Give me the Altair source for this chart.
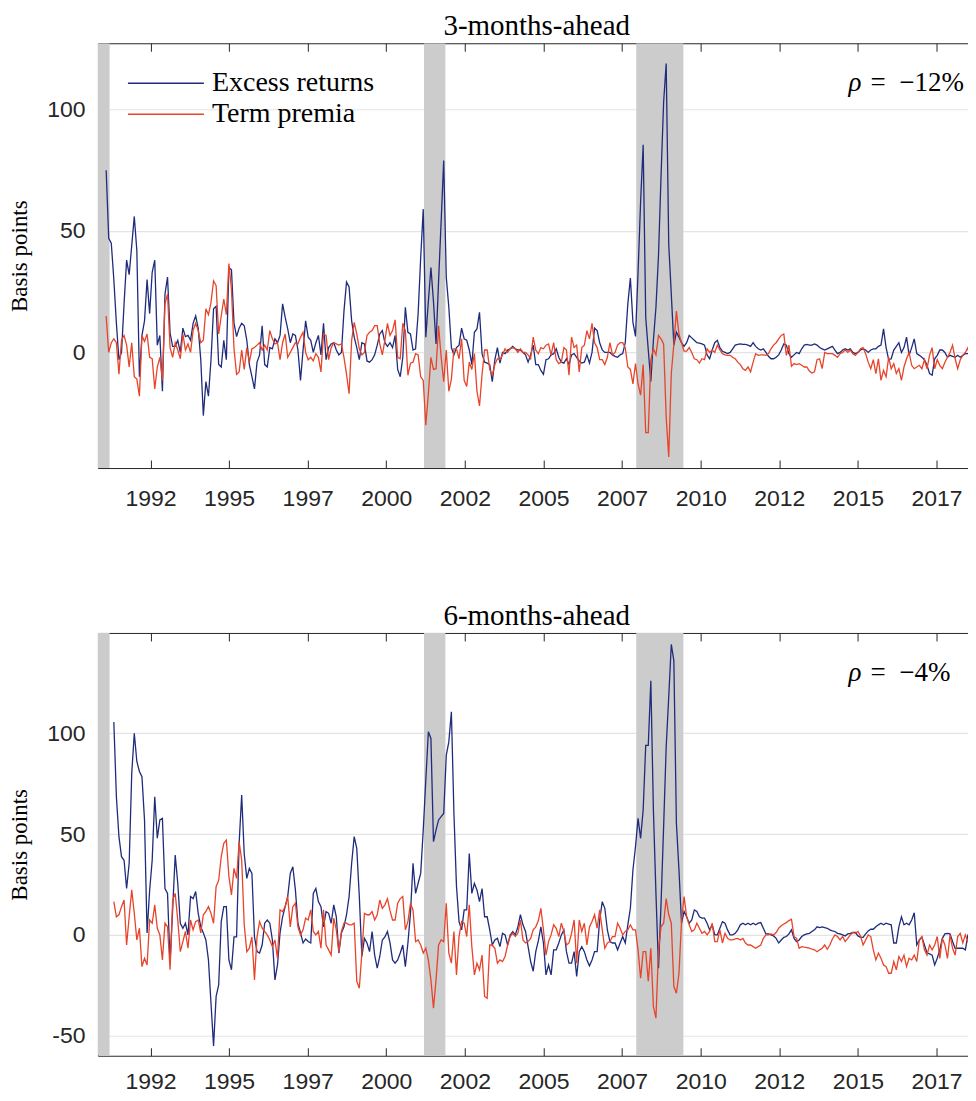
import altair as alt
import pandas as pd

# ---------------- data ----------------
# samples are evenly spaced in decimal years
T0 = 1991.091
STEP = 0.08133

# 3-months-ahead (sample 0 .. 340)
er3 = [
    75, 47, 45, 30, 12, -3, 0, 20, 38, 32,
    44, 56, 42, -10, 7, 13, 30, 16, 33, 38,
    3, 7, -16, 24, 31, 8, 2.5, 2.5, 5, 0,
    10, 6.5, 7, 5, 12, 15, 10, -3, -26, -12,
    -18, -3, 18, 19, -5, -6, 5, -3, 35, 34,
    12, 6.5, 10, 12, 11, 5, -5, -10, -15, -4,
    -1, 11, -5, -6, 2, 1.5, 5.6, 4, 7, 20,
    14.5, 9.7, 4, 7.6, 7, 1, -11.5, 1, 13, 6.3,
    5, 0, 4, 7, -1, 12, -3, 2, 3.5, 4,
    1, -1, 0, 17, 29, 27, 13, 6.3, 2, -3,
    4, 3.5, -3.5, -4, -3, -1, 3, 7.6, 9, 4,
    2.5, 4, 2, 7, -7, -10, -2, 18.6, 8.3, 7.6,
    1, 1.5, 16, 39, 59, 6.3, 21, 35, 21, 3.5,
    29.5, 54, 79, 31, 18.6, 2, -1, 2, 3, 10,
    5.6, 5, 1, -5, 8.3, 9.7, 16.5, -0.5, -4, -4.4,
    -5, -12, -3, 2, -4.4, 0, -0.5, 1, 1.5, 2.5,
    1.5, 1, 1, 0, -1, -4, -1, 3, -5, -5,
    -7.4, -9, -3, -2.6, -1, -0.5, 1.5, -2, -4, -4.4,
    -2.6, -5, -1, -0.5, -2, -3.5, -4.4, -4, -1, -4.4,
    0, 10, 9, 4, 1, 0, 0, 0, -1, -1.6,
    -2, -1, -0.5, 4, 20, 30.6, 12.4, 6.6, 33, 62,
    85.5, 14.5, 1, -12, 5, 18.6, 40, 73, 103, 119,
    44.5, 24, 3, 8.3, 6.3, 4, 2.5, 4, 7, 6,
    5, 4, 3.8, 3.5, 3, -1, -2.6, 1, 4, 5,
    2, 0.5, 0, -0.5, 0, 1.5, 3, 3.3, 3.5, 3.3,
    3.3, 3, 2.5, 4, 2.5, 1.5, 1, 1.5, 0, -1.6,
    -2.6, -2.6, -2, -1, 1, 3.5, 3, -0.5, -2, -1,
    0, -0.5, 1.5, 3, 3.3, 3, 3, 3.5, 3, 2,
    1.5, 1, 1.5, 2, 2.5, 1, -0.5, 0, 1, 1.5,
    1, 1.5, 0, -0.5, 0, 1, 1.5, 1, 0, 1,
    1.5, 1.5, 2.5, 3, 9.7, 2, -3, -2.6, 1, 2.5,
    4, 0, 2, 6.3, -1.2, 2, 5.6, -0.5, -1.2, -2,
    -3, -5.3, -8.7, -9.4, -2.6, -1.2, 1, 1, 0, -2,
    -1.2, -1.6, -2, -1.2, -2, -1.2, -0.5, -0.5, 0, 1,
    -0.5,
]
tp3 = [
    15, 0, 4, 5.6, 4, -9, 5, 7, 3, -6,
    4, -10, -11, -18, 7, 4.5, 7.6, -2, -2.6, -15,
    -6, -2, -11.5, 20, 24, 2, -2, 4, 1, -2.6,
    7.6, 1, 3.5, 0, 9, 12, 9, 4, 5, 18,
    15.6, 20.6, 29.5, 27.5, 7.6, 15, 22, 15.6, 36.6, 26,
    1.5, -9, -8, 1, -7, 2, -4, 1.5, 2, 3,
    4, 1, 3, 1, 9, 5.6, 3.5, 4, -3, 4,
    7.6, -2, 0, 2, 4, 3.5, 6.3, 8.3, 0, -3,
    -2, -3.5, -0.5, -2, -8, 7.6, 7, -3, 2, 4,
    3.5, 3, 3.5, -2, -9, -17, 5, 12.4, 7.6, 1.5,
    -1, 0, 7, 8.3, 9, 11, 11, 3.5, -1, 5,
    12, 7, 9, 13.4, -2, -2.6, 12, 9, -9.4, -4.4,
    -4, -0.5, -1, -10, -11.5, -30, -17, -2, -7, -6.7,
    11, -2, -12, 1, -16, -11, 1.5, 1.5, -2.6, 5.6,
    -11.5, -14, -4, -7, -0.5, -16, -22, -9, 1, 1,
    -7, -9.4, -5, -2.6, -3, -1, 1.5, 0, 1.5, 2,
    1.5, 0, 1.5, 0, 0, -1, -2.6, 6.3, 1, -0.5,
    2, 1.5, 3, 3.5, -1, 4, -3, -4.6, -4, 2,
    1, -9.4, 6.3, 2, 3, -8, 2, 3, 9, 5.6,
    12, 4, 2, -3, -3, -5, -2, 4, -1, 0,
    3, 4, 4, 2, -6, -7, -13, -4.6, -13, -17.6,
    -5, -33, -33, -3, 1.5, -1, 7, 5.6, 3.5, -26.5,
    -43, -8.7, 3.5, 17, 7.6, 4, 0.5, 0.5, 2, 0,
    -2.6, -3, -4.4, -2.6, -3, 1.5, 0, 1, 0, 3,
    1, -0.5, -1, -1.2, -1.2, -2, -2.6, -4, -5, -6.7,
    -7.4, -6, -8, -4, -0.5, -1.2, -1, -1, -1.2, -0.5,
    1.5, 3, 4, 5.6, 7, 7.6, -1.2, 3, -5.7, -4.6,
    -5, -4.6, -5.3, -6, -6, -7.7, -8.5, -8, -3, -2.6,
    -6.7, 0, -0.5, -0.5, -0.5, -1.2, -2, -0.5, 0, 1,
    0, 1, -0.5, -1.2, 0, 1.5, 2, -0.5, -4, -6.7,
    -3, -8.7, -2.6, -11.5, -7.4, -10, -2, -6.7, -4.6, -8.7,
    -6.7, -11.5, -6, -2.6, 0, -5.3, -6.7, -6, -5.3, -6.7,
    -3, -6.7, -1.2, 2, -6.7, -3, -5.3, -6.7, -4, -2,
    0, 3, -2.6, -6.7, -3, -1.2, 0, 2, -4, -2.6,
    -5.3,
]

# 6-months-ahead (sample 3 .. 340)
FIRST6 = 3
er6 = [
    105.6, 68.5, 48.7, 38.8, 37, 23, 35.5,
    80, 100, 86, 81, 78.4, 57, 1, 22, 37, 68.5,
    48, 57, 57.8, 23, 20.6, -14, 12.4, 39.6, 25.6, 5.8,
    3.3, 5.8, 0, 19, 18, 21.5, 10.7, 4, 1, -2.5,
    -12.4, -34, -55, -30.5, -24.8, 6.6, 14, 14, -12.4, -17.3,
    -1, -1, 45.4, 69.3, 40, 28, 33, 30.5, -1, -8.3,
    -9, -5, 5.8, 7.4, 5.8, -2.5, -22.3, -14.9, 1, 9,
    14, 19, 30.5, 33.8, 22.3, 5.8, 1, -4, -2, -3.3,
    -4, 20.6, 23, 16.5, 14, 4, 11.6, 10.7, 5.8, 14.9,
    9, -9, 1, 4, 10, 19, 35.5, 48.7, 42.9, 19,
    -10.7, -1.7, -4, -8.3, 1.7, -10, -16.5, -10.7, -2.5, -1,
    1.7, -4, -12.4, -14, -12.4, -9, -5, -15.7, -4, 10.7,
    35.5, 20.6, 25.6, 30.5, 52, 76.7, 100.7, 97.4, 46.2, 52,
    57, 58.6, 60.2, 89, 95.7, 110.6, 60.2, 24, 6.6, 2.5,
    12.4, 12.4, 40.4, 20.6, 25.6, 22.3, 16.5, 23, 9, 9,
    2.5, -5, -2.5, -1.7, -5.8, 0.8, 0, -5, 0, 1.7,
    0, 4, 10, 5, 1.7, -5.8, -13.2, -18, -8.3, -3,
    4, -4, -19.8, -14.9, -19.8, -7.4, -7.4, -4, 0, 2.5,
    -8.3, -14, -14, -8.3, -20.6, -8.3, -5.8, -8.3, -12.4, -15.3,
    -12.4, -8.3, -8.3, 7.4, 16.5, 13.2, 2.5, -3.3, -4, -4,
    -7.4, -4, -0.8, -4, 5, 13.2, 32.2, 43.7, 57.8, 47.9,
    61.9, 94, 94, 126, 61.9, 20.6, -16.5, 15.7, 53.6, 93.2,
    118, 144, 136, 55.3, 32.2, 5.8, 11.6, 9, 5.8, 7.4,
    12.4, 11.6, 9, 8.3, 8.3, 5.8, 2.5, 5, 0, 0,
    3.3, 6.6, 5.8, 2.5, 0, 0, 0.8, 2.5, 5, 5.8,
    5, 5.8, 5, 5.8, 5, 5.8, 6.1, 3.3, 0.5, 0.5,
    0, -0.5, -1.7, -4, -2.5, -1.2, -0.8, 0.5, 2.5, -1.7,
    -3.3, -2.5, -0.8, 0, 0.5, 0.8, 1.7, 2.5, 4, 3.6,
    4, 3.6, 3.3, 2.5, 2, 1.7, 0.8, 0.5, 0, -0.5,
    0.5, 0.8, 1.2, 1.2, -0.5, -1.2, -1.2, 0.5, 2, 2.8,
    2.8, 4, 5, 5.8, 5, 5.8, 5.4, 5, -4, -4,
    4, 9, 5, 5.8, 5, 7.4, 11, -5, -2.5, -1.2,
    -5, -9, -9.4, -10, -14.9, -11.6, -7.4, -1.7, 0.5, 0.8,
    0.5, -3.3, -6.6, -6.6, -6.6, -6.6, -7.4, 0, 0, -1.7,
    0,
]
tp6 = [
    16.5, 9, 10, 14, 17.3, -5, 9,
    22.3, 10.7, -2.5, 3.3, -15.7, -11.6, -14.9, 7.4, 5.8, 14.9,
    3.3, 0, -12.4, 5.8, 4, -17.3, 17.3, 20.6, 7.4, -8.3,
    -3.3, 1.7, -6.6, 7.4, 2.5, 6.6, 7.4, 1, 10, 11.6,
    14, 10.7, 5.8, 24, 27, 38.8, 45.4, 47, 29, 19.8,
    33, 28, 46.2, 37, 5, -8.3, -6.6, -1, -22.3, -1,
    6.6, 3.3, 1.7, 0, -2.5, -5.8, -2.5, -11.6, 12.4, 11.6,
    14, 19, 4, 14, 15.7, 4, 0, 2.5, 8.3, 7.4,
    12.4, 1.7, 0, 1.7, -6.6, 12.4, -5, -7.4, -10, 8.3,
    2.5, -8.3, 1.7, 5.8, 5.8, 5, 5, 5.8, -23, -26.4,
    -9, 10.7, 10, 10, 11.6, 7.4, 10, 17.3, 13.2, 14.9,
    18, 12, 7.4, 7.4, 15.7, 18, 19, 2.5, 6.6, 15.7,
    12.4, -3.3, -2.5, -5, -9, -6.6, -12.4, -22.3, -36.3, -22.3,
    -5, -2.5, -3.3, 15.7, -9, -14, 1.7, -19.8, -0.8, 6.6,
    5.8, -0.8, 14.9, -5.8, -19.8, -14, -17.3, -10, -30.5, -31.4,
    -5, -5, -6.6, -14, -12.4, -13.2, -10.7, -5, -0.8, 0.8,
    -0.8, 0.8, 7.4, -2.5, -4, -3.3, -1.7, 2.5, 4, 7,
    13.2, 2.5, -10, -3.3, 0, 5, 3.3, -0.8, 5.8, 1.7,
    -5, -4, 0.8, 7.4, -14, 7.4, 1.7, 5.8, -5, 4,
    6.6, 10, 3.3, 12.4, 2.5, -6.6, -4, -3.3, -0.8, -0.8,
    5.8, 3.3, 0, 1.7, 2.5, 5, 2.5, 2.5, -7.4, -21.5,
    -8.3, -8.3, -23, -6.6, -35.5, -41.3, -7.4, 4, 5.8, 18,
    10, 5.8, -25.6, -28.9, -19, 6.6, 19, 9, 5, 1.7,
    2.5, 5.8, 3.3, 0.8, 1.7, 0, 1.7, 5.8, -3.3, -3.3,
    2.5, -4, 0.8, -1.7, -2.5, -2.5, -2, -1.7, -2.5, -1.7,
    -4, -5, -5, -5.8, -6.6, -5.8, -5, -1.7, 0, 0,
    0.5, 0, 1.2, 3.3, 4.5, 5.4, 6.1, 7.1, 7.8, -0.8,
    -1.7, -6.6, -5.8, -6.1, -6.3, -6.6, -7.1, -7.4, -8.3, -7.4,
    -6.6, -5, -7.1, -5, -2, 0, -0.8, -2.5, -0.8, -3.3,
    -1.7, 0, 1.2, 0.8, 1.7, -0.5, -5, -2.5, 0, -0.8,
    -7.4, -12.4, -9, -11.6, -14.9, -15.7, -19, -19, -13.2, -17.3,
    -10.7, -13.2, -10, -15.7, -11.6, -12.4, -10, -13.2, -2.5, -0.8,
    -7.4, -10, -5, -7.4, -5, -0.8, -11.6, -1.7, -5, -11.6,
    0, -6.6, -10, -0.8, 0.8, -4, 0, -3.3, -1.7, -0.8,
    0,
]

# NBER recessions (decimal years)
REC_START = [1990.5, 2001.2, 2007.95]
REC_END = [1991.2, 2001.88, 2009.45]

X_DOMAIN = [1990.83, 2018.74]
X_TICKS = [1992.5, 1995.0, 1997.5, 2000.0, 2002.5, 2005.0, 2007.5, 2010.0, 2012.5, 2015.0, 2017.5]

TITLES = ["3-months-ahead", "6-months-ahead"]
RHO = ["=\u2002\u221212%", "=\u2002\u22124%"]
LEGEND = ["Excess returns", "Term premia"]
Y_TICKS_3 = [0, 50, 100]
Y_TICKS_6 = [-50, 0, 50, 100]
Y_DOMAIN_3 = [-47.6, 127.3]
Y_DOMAIN_6 = [-59.9, 149.7]

assert len(er3) == 341 and len(tp3) == 341, (len(er3), len(tp3))
assert len(er6) == 338 and len(tp6) == 338, (len(er6), len(tp6))

# ---------------- style ----------------
ER_COLOR = "#1f2c7c"
TP_COLOR = "#e8442a"
SHADE = "#cccccc"
AX = "#262626"
SERIF = "Liberation Serif"
SANS = "Liberation Sans"
W = 878

rec_df = pd.DataFrame({"s": REC_START, "e": REC_END})


def panel(er, tp, first, ydom, yticks, title, rho, height, legend, xlabpad):
    t = [T0 + (first + i) * STEP for i in range(len(er))]
    df = pd.DataFrame({"t": t, "er": er, "tp": tp})
    xs = alt.Scale(domain=X_DOMAIN, nice=False, zero=False)
    ys = alt.Scale(domain=ydom, nice=False, zero=False)

    rec = alt.Chart(rec_df).mark_rect(color=SHADE, clip=True).encode(
        x=alt.X("s:Q", scale=xs, axis=None), x2="e:Q")

    ax_bottom = alt.Axis(orient="bottom", values=X_TICKS, labelExpr="'' + floor(datum.value)",
                         tickSize=8, offset=-8, domain=False, grid=False, title=None,
                         labelFont=SANS, labelFontSize=23, labelColor=AX, labelPadding=xlabpad,
                         tickColor=AX, labelFlush=False, labelOverlap=False)
    ax_left = alt.Axis(orient="left", values=yticks, labelExpr="'' + datum.value",
                       tickSize=8, offset=-8, domain=False, grid=True, gridColor="#e4e4e4",
                       gridWidth=1.2, labelFont=SANS, labelFontSize=23, labelColor=AX,
                       labelPadding=13, tickColor=AX, title="Basis points", titleFont=SERIF,
                       titleFontSize=23, titleFontWeight="normal", titleColor="black",
                       titlePadding=15)
    ax_top = alt.Axis(orient="top", values=X_TICKS, labels=False, tickSize=8, offset=-8,
                      domain=False, grid=False, title=None, tickColor=AX)
    ax_right = alt.Axis(orient="right", values=yticks, labels=False, tickSize=8, offset=-8,
                        domain=False, grid=False, title=None, tickColor=AX)

    er_line = alt.Chart(df).mark_line(color=ER_COLOR, strokeWidth=1.3, clip=True).encode(
        x=alt.X("t:Q", scale=xs, axis=ax_bottom),
        y=alt.Y("er:Q", scale=ys, axis=ax_left))
    tp_line = alt.Chart(df).mark_line(color=TP_COLOR, strokeWidth=1.3, clip=True).encode(
        x=alt.X("t:Q", scale=xs, axis=ax_top),
        y=alt.Y("tp:Q", scale=ys, axis=ax_right))

    rho_df = pd.DataFrame({"sym": ["\u03c1"], "txt": [rho]})
    rho_sym = alt.Chart(rho_df).mark_text(font=SERIF, fontSize=27, fontStyle="italic",
                                          align="left", baseline="middle", color="black").encode(
        text="sym:N", x=alt.value(751), y=alt.value(40))
    rho_txt = alt.Chart(rho_df).mark_text(font=SERIF, fontSize=27, align="left",
                                          baseline="middle", color="black").encode(
        text="txt:N", x=alt.value(773), y=alt.value(40))

    layers = [rec, er_line, tp_line, rho_sym, rho_txt]
    if legend:
        for lab, col, yy in [(LEGEND[0], ER_COLOR, 40), (LEGEND[1], TP_COLOR, 71)]:
            ldf = pd.DataFrame({"label": [lab]})
            layers.append(alt.Chart(ldf).mark_rule(color=col, strokeWidth=1.3).encode(
                x=alt.value(30), x2=alt.value(106), y=alt.value(yy)))
            layers.append(alt.Chart(ldf).mark_text(font=SERIF, fontSize=28, align="left",
                                                   baseline="middle", color="black").encode(
                text="label:N", x=alt.value(114), y=alt.value(yy)))

    return alt.layer(*layers).resolve_axis(x="independent", y="independent").properties(
        width=W, height=height,
        title=alt.TitleParams(title, font=SERIF, fontSize=29, fontWeight="normal",
                              color="black", offset=1.5, anchor="middle"))


top = panel(er3, tp3, 0, Y_DOMAIN_3, Y_TICKS_3, TITLES[0], RHO[0], 425, True, 19)
bottom = panel(er6, tp6, FIRST6, Y_DOMAIN_6, Y_TICKS_6, TITLES[1], RHO[1], 423, False, 15)

chart = alt.vconcat(top, bottom, spacing=165, bounds="flush").properties(
    padding={"left": 0, "top": 3, "right": -8.5, "bottom": 0},
    background="white",
).configure_view(stroke=AX, strokeWidth=1)

chart.save("out.html", embed_options={"renderer": "svg", "actions": False})
